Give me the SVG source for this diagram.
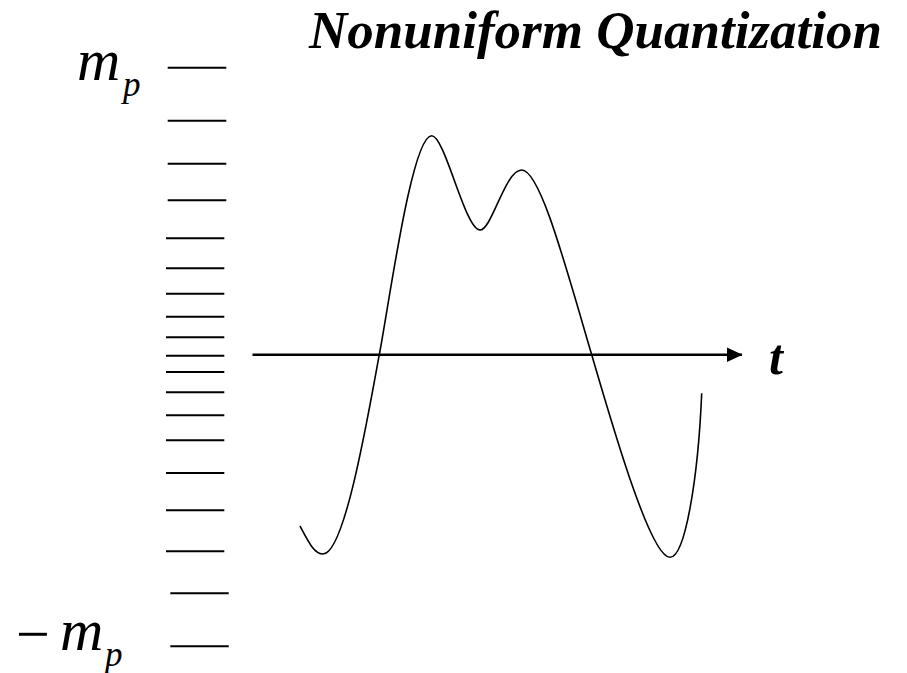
<svg xmlns="http://www.w3.org/2000/svg" width="907" height="673" viewBox="0 0 907 673">
<style>
.lvl{stroke:#000;stroke-width:2;fill:none}
.ax{stroke:#000;stroke-width:2.5;fill:none}
.sig{stroke:#000;stroke-width:1.6;fill:none}
.lab{font-family:"Liberation Serif","Times New Roman",serif;font-style:italic;fill:#000}
.title{font-family:"Liberation Serif","Times New Roman",serif;font-style:italic;font-weight:bold;fill:#000}
</style>
<defs>
<marker id="arr" viewBox="0 0 16 15" refX="15.5" refY="7.5" markerWidth="16" markerHeight="15" markerUnits="userSpaceOnUse" orient="auto">
<path d="M0,0 L16,7.5 L0,15 Z" fill="#000"/>
</marker>
</defs>
<rect width="907" height="673" fill="#fff"/>
<g id="title"><text class="title" x="309" y="48" font-size="53">Nonuniform Quantization</text></g>
<g id="levels">
<line class="lvl" x1="167.7" y1="67.7" x2="226.3" y2="67.7"/>
<line class="lvl" x1="167.7" y1="120.7" x2="226.3" y2="120.7"/>
<line class="lvl" x1="167.7" y1="163.7" x2="226.3" y2="163.7"/>
<line class="lvl" x1="167.7" y1="200.3" x2="226.3" y2="200.3"/>
<line class="lvl" x1="166" y1="238.3" x2="224.3" y2="238.3"/>
<line class="lvl" x1="166" y1="268.3" x2="224.3" y2="268.3"/>
<line class="lvl" x1="166" y1="293.7" x2="224.3" y2="293.7"/>
<line class="lvl" x1="166" y1="316.7" x2="224.3" y2="316.7"/>
<line class="lvl" x1="166" y1="337.3" x2="224.3" y2="337.3"/>
<line class="lvl" x1="166" y1="355.7" x2="224.3" y2="355.7"/>
<line class="lvl" x1="166" y1="372" x2="224.3" y2="372"/>
<line class="lvl" x1="166" y1="392.3" x2="224.3" y2="392.3"/>
<line class="lvl" x1="166" y1="415.3" x2="224.3" y2="415.3"/>
<line class="lvl" x1="166" y1="440.3" x2="224.3" y2="440.3"/>
<line class="lvl" x1="166" y1="473" x2="224.3" y2="473"/>
<line class="lvl" x1="166" y1="510.3" x2="224.3" y2="510.3"/>
<line class="lvl" x1="166" y1="551.3" x2="224.3" y2="551.3"/>
<line class="lvl" x1="170.3" y1="593.3" x2="228.7" y2="593.3"/>
<line class="lvl" x1="170.3" y1="646.3" x2="228.7" y2="646.3"/>
</g>
<g id="mp-label">
<text class="lab" x="77" y="80" font-size="60">m</text>
<text class="lab" x="123" y="96" font-size="35">p</text>
</g>
<g id="neg-mp-label">
<text x="16" y="654" font-size="60" font-family="Liberation Serif, serif" fill="#000">−</text>
<text class="lab" x="60" y="650" font-size="60">m</text>
<text class="lab" x="105" y="666" font-size="35">p</text>
</g>
<g id="connectors">
<line class="ax" x1="252.5" y1="354.7" x2="742" y2="354.7" marker-end="url(#arr)"/>
</g>
<g id="t-label"><text class="title" x="769" y="374" font-size="50">t</text></g>
<g id="signal">
<path class="sig" d="M300,526 C308,541 314,554 323,554 C345,554 368.3,413.3 379.3,354.7 C390.3,296 412,136 431.7,135.7 C445,135.7 465,230 480,230 C492,230 505,170 521.7,170 C540,170 565,264 591.7,354.7 C611.7,422.7 650,557.3 670,557.3 C685,557.3 698,480 701.7,393.3"/>
</g>
</svg>
